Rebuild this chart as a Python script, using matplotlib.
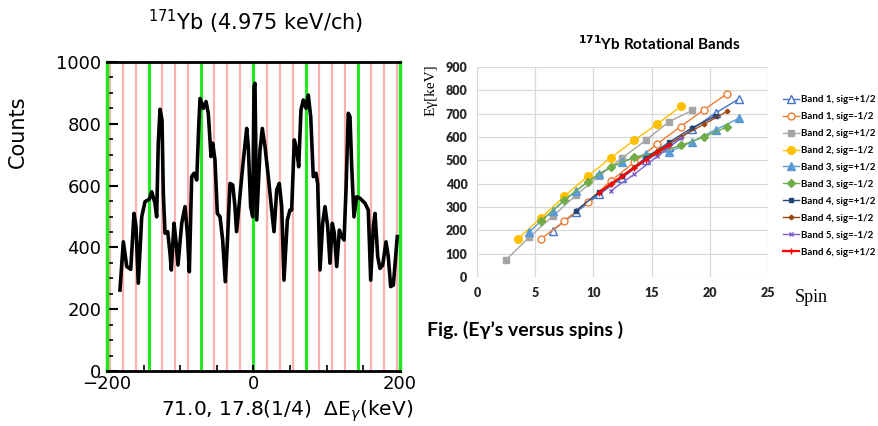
import matplotlib

matplotlib.use("Agg")
import matplotlib.pyplot as plt

# ---- left panel: 171Yb difference spectrum ----
DE = [-182.3, -177.7, -173, -167.6, -163.1, -160.4, -157.3, -152.6, -148.1,
      -142.2, -139, -134.5, -132.2, -130, -127.6, -124.9, -123.1, -120.8,
      -117.1, -114, -112.2, -108.5, -105.8, -103.1, -98, -93.5, -90.3, -87.6,
      -84.4, -81.2, -77.5, -74.8, -73, -68.5, -64.8, -61.7, -58, -55.7, -52.6,
      -49.4, -45.7, -42.1, -38.5, -35.3, -32.1, -28.4, -25.3, -23.1, -19.4,
      -14.8, -9.3, -7.1, -3.9, -1.1, 0.7, 2.0, 4.4, 8.9, 12, 15.7, 20.2, 24.8,
      28, 31.7, 35.2, 38.5, 41.6, 46.2, 49.8, 52.1, 55.7, 59, 61.7, 64.8, 68,
      71.7, 74.8, 78.1, 81.6, 85.3, 87.6, 90.8, 94.4, 97.6, 101.3, 104.4,
      107.6, 110.3, 113.6, 117.2, 120.4, 123.6, 126.3, 129.4, 131.7, 134.1,
      137.2, 140.9, 145.4, 152.2, 156.7, 160, 163.6, 165.9, 169.6, 172.7,
      176.4, 180.9, 184, 187.3, 190.9, 196.3]
COUNTS = [262, 418, 338, 329, 510, 467, 284, 499, 548,
          556, 580, 543, 499, 737, 847, 812, 575, 446,
          451, 381, 327, 478, 418, 343, 478, 532, 446, 321,
          629, 640, 618, 791, 882, 850, 872, 834, 694, 737, 683,
          510, 499, 424, 289, 435, 607, 602, 532, 451, 543,
          661, 785, 726, 532, 499, 920, 931, 489, 715, 785, 726, 629, 521,
          451, 586, 607, 532, 294, 489, 521, 521, 748, 715, 661, 845, 877,
          850, 893, 823, 629, 640, 607, 327, 478, 532, 467, 349,
          478, 446, 338, 456, 435, 424, 586, 834, 823, 661,
          499, 564, 559, 543, 521, 294, 467, 510, 370, 332,
          343, 418, 370, 273, 278, 435]
MAIN_STEP = 71.0      # green guide lines
SUB_STEP = 17.75      # red guide lines (1/4)

# ---- right panel: rotational bands, E_gamma vs spin ----
b1p_spin = [6.5, 8.5, 10.5, 12.5, 14.5, 16.5, 18.5, 20.5, 22.5]
b1p_e = [199, 277, 354, 426, 500, 557, 634, 703, 763]
b1m_spin = [5.5, 7.5, 9.5, 11.5, 13.5, 15.5, 17.5, 19.5, 21.5]
b1m_e = [163, 240, 323, 411, 492, 571, 645, 717, 786]
b2p_spin = [2.5, 4.5, 6.5, 8.5, 10.5, 12.5, 14.5, 16.5, 18.5]
b2p_e = [74, 171, 260, 350, 434, 511, 586, 666, 714]
b2m_spin = [3.5, 5.5, 7.5, 9.5, 11.5, 13.5, 15.5, 17.5]
b2m_e = [163, 253, 346, 431, 511, 586, 656, 731]
b3p_spin = [4.5, 6.5, 8.5, 10.5, 12.5, 14.5, 16.5, 18.5, 20.5, 22.5]
b3p_e = [194, 284, 369, 443, 494, 527, 537, 580, 631, 680]
b3m_spin = [5.5, 7.5, 9.5, 11.5, 13.5, 15.5, 17.5, 19.5, 21.5]
b3m_e = [240, 330, 408, 473, 513, 533, 564, 600, 644]
b4p_spin = [8.5, 10.5, 12.5, 14.5, 16.5, 18.5, 20.5]
b4p_e = [284, 363, 434, 510, 577, 640, 690]
b4m_spin = [11.5, 13.5, 15.5, 17.5, 19.5, 21.5]
b4m_e = [400, 470, 540, 600, 655, 710]
b5m_spin = [11.5, 13.5, 15.5, 17.5]
b5m_e = [370, 440, 517, 594]
b6p_spin = [10.5, 11.5, 12.5, 13.5, 14.5, 15.5, 16.5]
b6p_e = [362, 398, 432, 468, 503, 535, 565]

W, H = 879, 426
fig = plt.figure(figsize=(W / 100, H / 100), dpi=100)

# ================= left =================
ax = fig.add_axes([107 / W, 1 - 371 / H, 293 / W, 309 / H])
pink = "#ffb0b0"
green = "#22e622"
k = -12
while k <= 12:
    xv = k * SUB_STEP
    if -200 < xv < 200:
        if k % 4 == 0:
            ax.axvline(xv, color=green, lw=2.2, zorder=1)
        else:
            ax.axvline(xv, color=pink, lw=1.6, zorder=1)
    k += 1
ax.plot(DE, COUNTS, color="black", lw=2.6, zorder=3, solid_joinstyle="round")
ax.set_xlim(-200, 200)
ax.set_ylim(0, 1000)
ax.set_yticks(range(0, 1001, 200))
ax.set_yticks(range(0, 1001, 50), minor=True)
ax.set_xticks([-200, 0, 200])
ax.set_xticks(range(-200, 201, 50), minor=True)
ax.tick_params(axis="both", which="major", direction="in", length=8, width=1.5,
               labelsize=13, pad=4)
ax.tick_params(axis="both", which="minor", direction="in", length=4, width=1.2)
ax.tick_params(axis="x", which="both", length=4, pad=3)
for s in ("left", "right"):
    ax.spines[s].set_color(green)
    ax.spines[s].set_linewidth(2.5)
for s in ("top", "bottom"):
    ax.spines[s].set_linewidth(2)
fig.text(18 / W, 1 - 132 / H, "Counts", rotation=90, fontsize=15,
         ha="center", va="center")
fig.text(256 / W, 1 - 22 / H, r"$^{171}$Yb (4.975 keV/ch)", fontsize=15,
         ha="center", va="center")
fig.text(287 / W, 1 - 411 / H, r"71.0, 17.8(1/4)  $\Delta$E$_{\gamma}$(keV)",
         fontsize=14.5, ha="center", va="center")

# ================= right =================
bx = fig.add_axes([477 / W, 1 - 277 / H, 291 / W, 210 / H])
series = [
    (b1p_spin, b1p_e, "Band 1, sig=+1/2", "#4472c4", "^", 5.5, "white", 1.0),
    (b1m_spin, b1m_e, "Band 1, sig=-1/2", "#ed7d31", "o", 5, "white", 1.0),
    (b2p_spin, b2p_e, "Band 2, sig=+1/2", "#a5a5a5", "s", 5, None, 1.0),
    (b2m_spin, b2m_e, "Band 2, sig=-1/2", "#ffc000", "o", 5.5, None, 1.0),
    (b3p_spin, b3p_e, "Band 3, sig=+1/2", "#5b9bd5", "^", 5.5, None, 1.0),
    (b3m_spin, b3m_e, "Band 3, sig=-1/2", "#70ad47", "D", 3.8, None, 1.0),
    (b4p_spin, b4p_e, "Band 4, sig=+1/2", "#264478", "s", 2.6, None, 1.0),
    (b4m_spin, b4m_e, "Band 4, sig=-1/2", "#9e480e", "P", 3, None, 1.0),
    (b5m_spin, b5m_e, "Band 5, sig=-1/2", "#7f5fcf", "x", 3.5, None, 1.0),
    (b6p_spin, b6p_e, "Band 6, sig=+1/2", "#ff0000", "+", 4.5, None, 1.6),
]
for sp, e, lab, col, mk, ms, face, lw in series:
    bx.plot(sp, e, color=col, lw=lw, marker=mk, ms=ms,
            markerfacecolor=face if face else col, markeredgecolor=col,
            markeredgewidth=1.0, label=lab)
bx.set_xlim(0, 25)
bx.set_ylim(0, 900)
bx.set_xticks(range(0, 26, 5))
bx.set_yticks(range(0, 901, 100))
bx.grid(True, color="#d9d9d9", lw=0.9)
bx.set_axisbelow(True)
for s in bx.spines.values():
    s.set_visible(False)
bx.tick_params(length=0, labelsize=9, labelcolor="#262626", pad=7)
for t in bx.get_xticklabels() + bx.get_yticklabels():
    t.set_fontfamily("Lato")
    t.set_fontweight("heavy")

fig.text(659 / W, 1 - 44 / H, r"$^{\mathbf{171}}$Yb Rotational Bands",
         fontsize=11, fontweight="bold", family=["Lato", "DejaVu Sans"],
         ha="center", va="center")
fig.text(431 / W, 1 - 90 / H, "Eγ[keV]", rotation=90, fontsize=11,
         family="Liberation Serif", ha="center", va="center")
fig.text(795 / W, 1 - 297 / H, "Spin", fontsize=13,
         family="Liberation Serif", ha="left", va="center")
fig.text(427 / W, 1 - 330 / H, "Fig. (Eγ’s versus spins )", fontsize=14,
         fontweight="bold", family=["Lato", "DejaVu Sans"],
         ha="left", va="center")

leg = bx.legend(loc="upper left", bbox_to_anchor=(783 / W, 1 - 95 / H),
                bbox_transform=fig.transFigure, frameon=False,
                prop={"family": "Lato", "weight": "bold", "size": 7},
                labelspacing=0.82, handlelength=1.6, handletextpad=0.25,
                borderaxespad=0, borderpad=0)

fig.savefig("out.png", dpi=100)
